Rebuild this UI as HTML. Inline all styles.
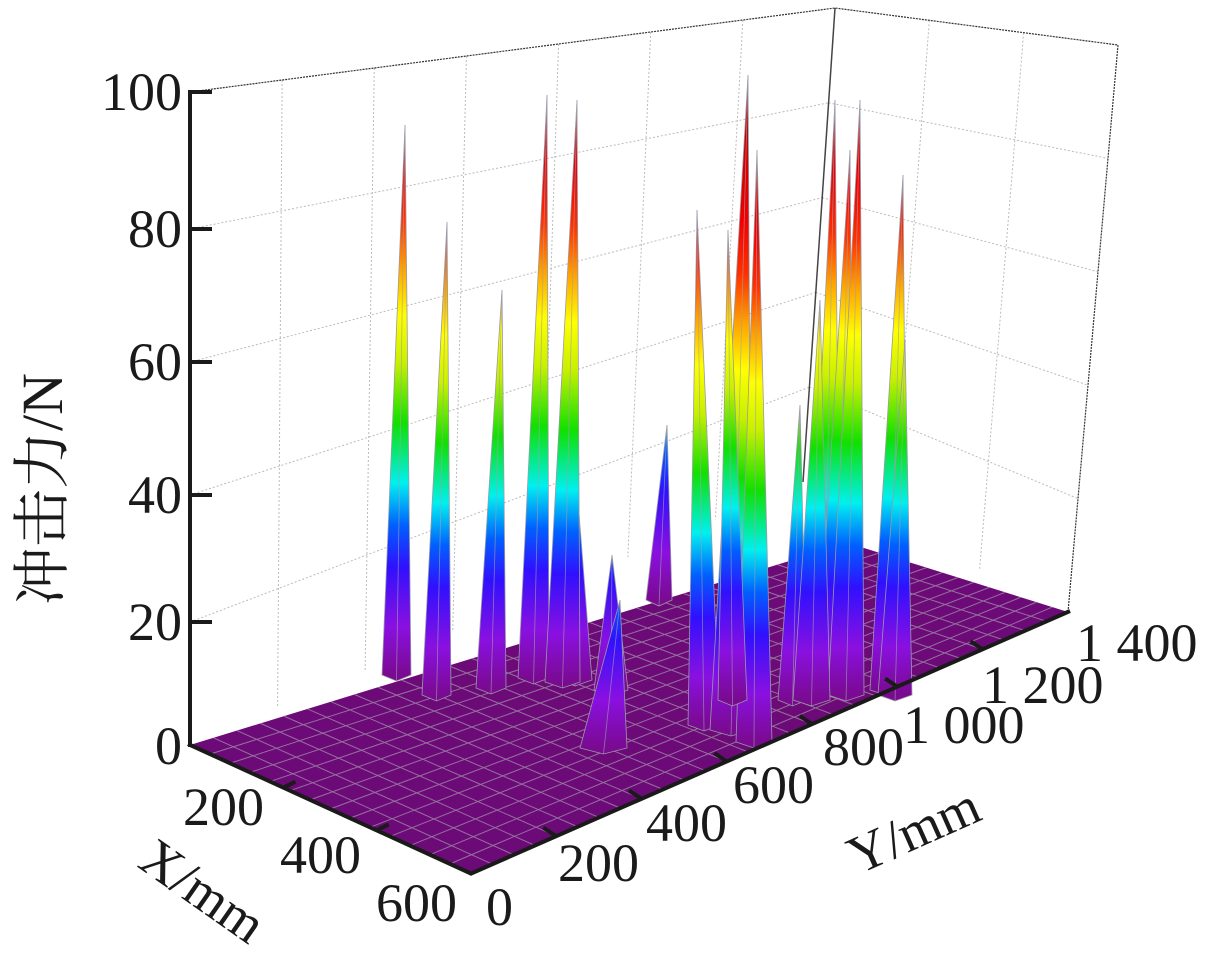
<!DOCTYPE html>
<html><head><meta charset="utf-8"><style>
html,body{margin:0;padding:0;background:#fff;}
svg{display:block;}
text{font-family:"Liberation Serif","Noto Serif CJK SC",serif;fill:#1a1a1a;}
</style></head><body>
<svg id="s" width="1221" height="958" viewBox="0 0 1221 958" xmlns="http://www.w3.org/2000/svg">
<defs id="d"></defs>
<g id="walls" stroke="#bbb" stroke-width="1" stroke-dasharray="2,2" fill="none"></g>
<polyline points="190,92 835,8 1118,45 1068,612" fill="none" stroke="#333" stroke-width="1.2" stroke-dasharray="2,1"/>
<line x1="835" y1="8" x2="803" y2="482" stroke="#444" stroke-width="1.5"/>
<polygon points="190,745 470,873 1068,612 848,543" fill="#6c0a78"/>
<g id="fg" stroke="#a08aa8" stroke-width="1" opacity="0.8"></g>
<g id="sp"></g>
<g stroke="#1a1a1a" stroke-width="4" fill="none">
<line x1="190" y1="90" x2="190" y2="747"/>
<line x1="188" y1="744" x2="472" y2="874"/>
<line x1="470" y1="874" x2="1070" y2="611"/>
</g>
<g id="ticks" stroke="#1a1a1a" stroke-width="4"></g>
<g font-size="54" text-anchor="end">
<text x="182" y="110">100</text>
<text x="182" y="247">80</text>
<text x="182" y="380">60</text>
<text x="182" y="513">40</text>
<text x="182" y="640">20</text>
<text x="182" y="764">0</text>
</g>
<g font-size="54">
<text x="183" y="825">200</text>
<text x="280" y="873">400</text>
<text x="376" y="921">600</text>
<text x="486" y="925">0</text>
<text x="558" y="881">200</text>
<text x="646" y="841">400</text>
<text x="733" y="803">600</text>
<text x="823" y="765">800</text>
<text x="903" y="743">1 000</text>
<text x="982" y="703">1 200</text>
<text x="1076" y="661">1 400</text>
</g>
<text font-size="58" transform="translate(62,605) rotate(-90)">冲击力/N</text>
<text font-size="54" transform="translate(136,866) rotate(35)">X/mm</text>
<text font-size="54" transform="translate(858,875) rotate(-24)">Y/mm</text>
</svg>
<script>
var NS="http://www.w3.org/2000/svg";
function el(t,a,p){var e=document.createElementNS(NS,t);for(var k in a)e.setAttribute(k,a[k]);p.appendChild(e);return e;}
var walls=document.getElementById('walls');
var zy=[229,362,495,622];
var backTop=[835,8],backBot=[803,482];
for(var i=0;i<4;i++){var f=(i+1)/5;var bx=backTop[0]+(backBot[0]-backTop[0])*f,by=backTop[1]+(backBot[1]-backTop[1])*f;
 el('line',{x1:190,y1:zy[i],x2:bx,y2:by},walls);
 var rx=1118+(1068-1118)*f,ry=45+(612-45)*f; el('line',{x1:bx,y1:by,x2:rx,y2:ry},walls);}
for(var j=1;j<7;j++){var f=j/7;var tx=190+(835-190)*f,ty=92+(8-92)*f,bx=190+(803-190)*f,by=745+(482-745)*f;el('line',{x1:tx,y1:ty,x2:bx,y2:by},walls);}
for(var j=1;j<3;j++){var f=j/3;el('line',{x1:835+(1118-835)*f,y1:8+(45-8)*f,x2:803+(1068-803)*f,y2:482+(612-482)*f},walls);}
var fg=document.getElementById('fg');
var A=[190,745],B=[470,873],C=[1068,612],D=[848,543];
function L(p,q,t){return [p[0]+(q[0]-p[0])*t,p[1]+(q[1]-p[1])*t];}
for(var i=1;i<14;i++){var p=L(A,B,i/14),q=L(D,C,i/14);el('line',{x1:p[0],y1:p[1],x2:q[0],y2:q[1]},fg);}
for(var i=1;i<28;i++){var p=L(A,D,i/28),q=L(B,C,i/28);el('line',{x1:p[0],y1:p[1],x2:q[0],y2:q[1]},fg);}
var tk=document.getElementById('ticks');
for(var i=1;i<3;i++){var p=L(A,B,i/3);el('line',{x1:p[0],y1:p[1],x2:p[0]+12,y2:p[1]-6},tk);}
for(var i=1;i<7;i++){var p=L(B,C,i/7);el('line',{x1:p[0],y1:p[1],x2:p[0]-12,y2:p[1]-8},tk);}
[[92],[229],[362],[495],[622]].forEach(function(y){el('line',{x1:190,y1:y[0],x2:212,y2:y[0]},tk);});
var defs=document.getElementById('d'),sp=document.getElementById('sp');
var stops=[[0,'#7a0a90'],[0.08,'#8a10e0'],[0.18,'#3010ff'],[0.25,'#0060ff'],[0.32,'#00f0f0'],[0.42,'#10e000'],[0.52,'#c8f000'],[0.6,'#ffff00'],[0.68,'#ffa000'],[0.76,'#ff3000'],[0.85,'#f00000'],[1,'#c00000']];
var spikes=[
[405,125,675,382,411],[447,222,695,422,451],[502,290,688,476,506],[667,425,600,646,672],
[578,500,680,558,592],[547,95,678,518,549],[577,100,682,545,580],[612,555,690,594,628],
[697,210,725,688,720],[620,600,748,580,627],[748,75,730,710,752],[757,150,742,736,772],
[728,230,700,718,747],[800,405,700,778,807],[835,100,690,806,840],[850,150,692,816,854],
[860,100,695,828,864],[820,300,700,793,830],[903,175,690,870,907],[905,340,695,878,912]];
spikes.forEach(function(s,k){var id='g'+k;var g=el('linearGradient',{id:id,gradientUnits:'userSpaceOnUse',x1:0,y1:s[2],x2:0,y2:s[2]-600},defs);
 stops.forEach(function(t){el('stop',{offset:t[0],'stop-color':t[1]},g);});
 var mid=(s[3]+s[4])/2;
 el('polygon',{points:s[3]+','+s[2]+' '+mid+','+(s[2]+6)+' '+s[4]+','+s[2]+' '+s[0]+','+s[1],fill:'url(#'+id+')',stroke:'#9a9aa8','stroke-width':0.8},sp);
 el('line',{x1:s[0],y1:s[1],x2:mid,y2:s[2]+6,stroke:'#a0a0b0','stroke-width':0.8,opacity:0.7},sp);
});
</script>
</body></html>
